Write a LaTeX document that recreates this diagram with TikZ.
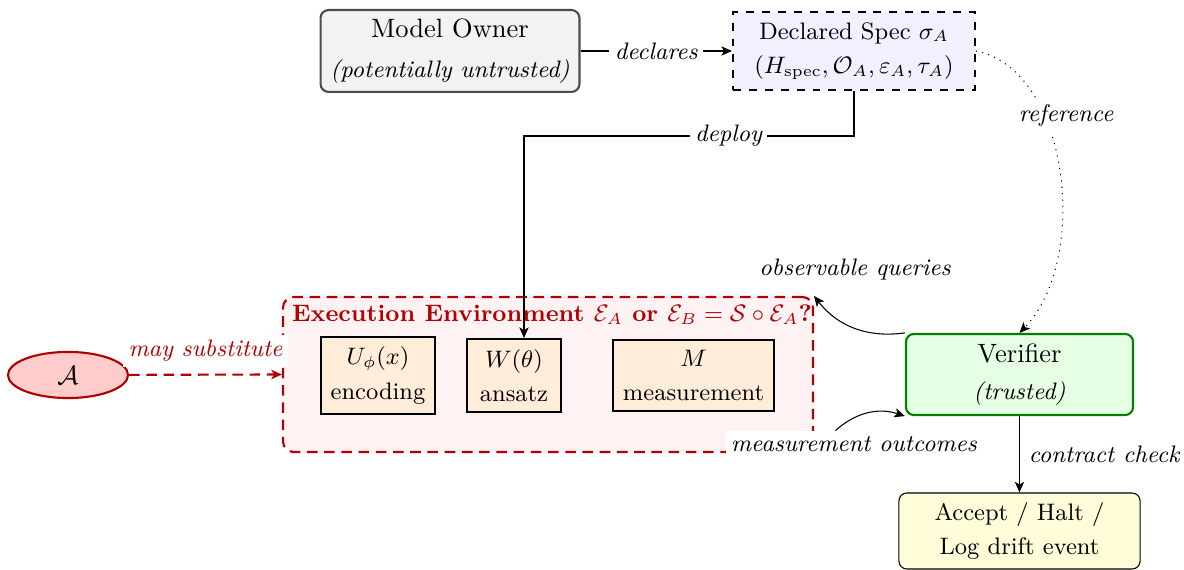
\documentclass[tikz,border=0pt]{standalone}
\usetikzlibrary{arrows.meta,shapes.geometric,calc}
\definecolor{envred}{RGB}{176,0,0}
\begin{document}
\begin{tikzpicture}[x=0.3774pt,y=-0.3774pt,
  box/.style={draw, align=center, inner sep=2pt},
  ownerbox/.style={box, rounded corners=3pt, fill=gray!10, draw=black!70, thick, minimum width=97.7pt, minimum height=30.9pt},
  specbox/.style={box, dashed, thick, fill=blue!6, minimum width=91.3pt, minimum height=29.4pt, font=\small},
  envbox/.style={draw=envred, fill=red!5, thick, dash pattern=on 4pt off 2.5pt, rounded corners=4pt, minimum width=200pt, minimum height=58.5pt},
  stage/.style={box, thick, fill=orange!15, font=\small},
  advers/.style={ellipse, draw=envred, thick, fill=red!20, minimum width=45.3pt, minimum height=17.4pt, inner sep=0pt},
  verbox/.style={box, rounded corners=3pt, thick, draw=green!50!black, fill=green!10, minimum width=85.7pt, minimum height=30.6pt},
  outbox/.style={box, rounded corners=3pt, fill=yellow!15, minimum width=91pt, minimum height=28.7pt, font=\small},
  lbl/.style={font=\small\itshape, fill=white, inner sep=2pt},
  arr/.style={-{Stealth[length=4pt,width=3.5pt,inset=1pt]}}
]
\useasboundingbox (0,0) rectangle (1184,570);

\node[ownerbox] (owner) at (450,51) {Model Owner\\[3pt]{\small\itshape (potentially untrusted)}};
\node[specbox] (spec) at (854,51) {Declared Spec $\sigma_A$\\[2pt]$(H_{\mathrm{spec}},\mathcal{O}_A,\varepsilon_A,\tau_A)$};

\node[envbox] (env) at (548,374.5) {};
\node[font=\small\bfseries, text=envred, anchor=base, inner sep=0pt] (envtitle) at (552,322) {Execution Environment $\mathcal{E}_A$ or $\mathcal{E}_B=\mathcal{S}\circ\mathcal{E}_A$?};

\node[stage, minimum width=43pt, minimum height=29pt] (U) at (378,375.5) {$U_\phi(x)$\\[2pt]encoding};
\node[stage, minimum width=35.5pt, minimum height=27.5pt] (W) at (514,375.5) {$W(\theta)$\\[2pt]ansatz};
\node[stage, minimum width=60.8pt, minimum height=26.8pt] (M) at (693.5,375.5) {$M$\\[2pt]measurement};

\node[advers] (A) at (68,375) {$\mathcal{A}$};
\node[verbox] (ver) at (1019.5,374.5) {Verifier\\[2pt]{\small\itshape (trusted)}};
\node[outbox] (out) at (1019.5,531) {Accept / Halt /\\[2pt]Log drift event};

\draw[arr] (owner) -- node[lbl]{declares} (spec);
\coordinate (dbend) at (524,136);
\draw[arr] (spec.south) |- node[lbl,pos=0.69]{deploy} (dbend) -- ($(W.north)+(10,0)$);

\draw[arr, envred, thick, dash pattern=on 4pt off 2.5pt] (A) -- node[lbl, text=envred, above=2.5pt]{may substitute} (env.west);

\draw[arr] (ver.north west) to[bend left=30] (env.north east);
\node[font=\small\itshape] (oq) at (855,270) {observable queries};
\node[lbl] (mo) at (854,444) {measurement outcomes};
\draw[arr] ([xshift=-7pt]mo.north) to[bend left=30] (ver.south west);

\draw[arr, dotted] (spec.east) .. controls (1070,70) and (1090,260) .. (ver.north);
\node[lbl] (ref) at (1066,116) {reference};

\draw[arr] (ver) -- node[right, font=\small\itshape]{contract check} (out);
\end{tikzpicture}
\end{document}
